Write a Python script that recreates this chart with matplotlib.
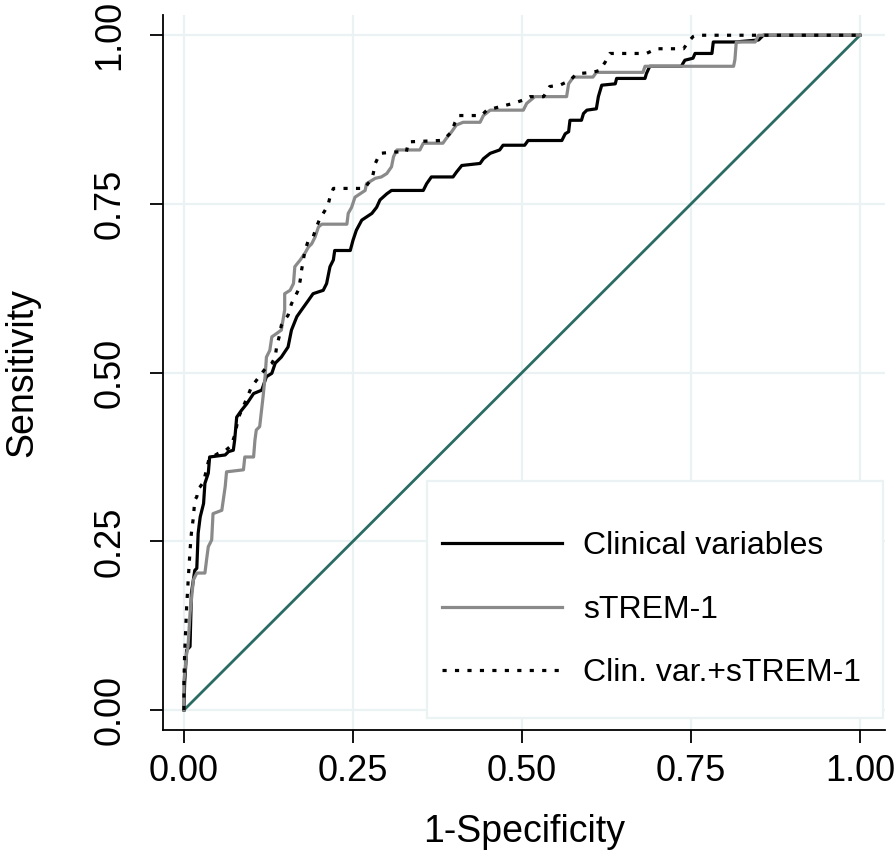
import matplotlib
matplotlib.use('Agg')
import matplotlib.pyplot as plt
from matplotlib.patches import Rectangle

plt.rcParams['font.family'] = ['Liberation Sans', 'DejaVu Sans']

# ROC curve of the clinical variables model
fpr_clin = [0.000, 0.001, 0.004, 0.009, 0.011, 0.016, 0.019, 0.021, 0.024, 0.029,
            0.031, 0.036, 0.038, 0.061, 0.066, 0.073, 0.075, 0.078, 0.085, 0.093,
            0.103, 0.115, 0.122, 0.130, 0.135, 0.144, 0.154, 0.159, 0.167, 0.174,
            0.184, 0.191, 0.206, 0.211, 0.216, 0.221, 0.223, 0.246, 0.250, 0.255,
            0.263, 0.278, 0.285, 0.290, 0.300, 0.307, 0.354, 0.359, 0.366, 0.398,
            0.403, 0.411, 0.438, 0.443, 0.453, 0.467, 0.472, 0.504, 0.509, 0.559,
            0.564, 0.569, 0.571, 0.588, 0.591, 0.596, 0.610, 0.613, 0.618, 0.638,
            0.640, 0.682, 0.684, 0.689, 0.736, 0.738, 0.741, 0.753, 0.756, 0.781,
            0.783, 0.815, 0.850, 0.857, 1.000]
tpr_clin = [0.000, 0.040, 0.089, 0.094, 0.173, 0.207, 0.210, 0.262, 0.286, 0.306,
            0.336, 0.351, 0.375, 0.378, 0.383, 0.385, 0.400, 0.434, 0.444, 0.454,
            0.469, 0.474, 0.494, 0.499, 0.514, 0.523, 0.538, 0.563, 0.583, 0.593,
            0.607, 0.617, 0.622, 0.632, 0.657, 0.667, 0.681, 0.681, 0.696, 0.711,
            0.726, 0.736, 0.745, 0.756, 0.765, 0.770, 0.770, 0.780, 0.790, 0.790,
            0.797, 0.807, 0.810, 0.817, 0.825, 0.830, 0.837, 0.837, 0.844, 0.844,
            0.854, 0.857, 0.874, 0.874, 0.884, 0.889, 0.891, 0.909, 0.926, 0.928,
            0.936, 0.936, 0.943, 0.954, 0.954, 0.958, 0.963, 0.966, 0.973, 0.973,
            0.990, 0.990, 0.993, 1.000, 1.000]

# ROC curve of sTREM-1 alone
fpr_strem = [0.000, 0.000, 0.004, 0.006, 0.009, 0.011, 0.014, 0.019, 0.031, 0.034,
             0.036, 0.041, 0.043, 0.056, 0.061, 0.063, 0.088, 0.090, 0.103, 0.105,
             0.107, 0.112, 0.117, 0.120, 0.122, 0.127, 0.130, 0.137, 0.144, 0.149,
             0.149, 0.157, 0.162, 0.164, 0.172, 0.179, 0.184, 0.189, 0.194, 0.199,
             0.204, 0.241, 0.243, 0.248, 0.253, 0.268, 0.270, 0.283, 0.292, 0.300,
             0.307, 0.310, 0.315, 0.349, 0.354, 0.383, 0.388, 0.396, 0.403, 0.413,
             0.438, 0.443, 0.453, 0.502, 0.507, 0.519, 0.566, 0.569, 0.576, 0.605,
             0.610, 0.679, 0.682, 0.813, 0.815, 0.817, 0.845, 0.850, 1.000]
tpr_strem = [0.000, 0.044, 0.084, 0.094, 0.143, 0.163, 0.193, 0.203, 0.203, 0.227,
             0.242, 0.252, 0.291, 0.296, 0.331, 0.353, 0.356, 0.375, 0.375, 0.400,
             0.415, 0.420, 0.464, 0.494, 0.523, 0.533, 0.553, 0.558, 0.563, 0.593,
             0.617, 0.622, 0.632, 0.657, 0.667, 0.677, 0.686, 0.691, 0.701, 0.716,
             0.720, 0.720, 0.736, 0.745, 0.760, 0.770, 0.780, 0.788, 0.790, 0.795,
             0.805, 0.820, 0.830, 0.830, 0.840, 0.840, 0.847, 0.857, 0.867, 0.871,
             0.871, 0.881, 0.889, 0.889, 0.899, 0.909, 0.909, 0.928, 0.938, 0.938,
             0.945, 0.945, 0.954, 0.954, 0.964, 0.990, 0.990, 1.000, 1.000]

# ROC curve of clinical variables + sTREM-1
fpr_comb = [0.000, 0.000, 0.001, 0.004, 0.006, 0.009, 0.011, 0.014, 0.016, 0.019,
            0.021, 0.024, 0.029, 0.033, 0.037, 0.050, 0.062, 0.070, 0.076, 0.080,
            0.090, 0.100, 0.115, 0.122, 0.130, 0.135, 0.137, 0.142, 0.144, 0.149,
            0.154, 0.159, 0.164, 0.169, 0.172, 0.174, 0.179, 0.184, 0.191, 0.196,
            0.201, 0.209, 0.213, 0.216, 0.221, 0.268, 0.272, 0.277, 0.280, 0.283,
            0.290, 0.312, 0.329, 0.332, 0.379, 0.388, 0.396, 0.401, 0.406, 0.440,
            0.448, 0.467, 0.487, 0.502, 0.512, 0.532, 0.541, 0.556, 0.571, 0.581,
            0.605, 0.615, 0.623, 0.630, 0.684, 0.699, 0.739, 0.746, 0.753, 0.758,
            1.000]
tpr_comb = [0.000, 0.040, 0.084, 0.153, 0.188, 0.237, 0.262, 0.286, 0.311, 0.316,
            0.328, 0.331, 0.338, 0.355, 0.372, 0.380, 0.385, 0.392, 0.410, 0.432,
            0.455, 0.479, 0.499, 0.508, 0.514, 0.523, 0.538, 0.558, 0.570, 0.578,
            0.585, 0.602, 0.612, 0.622, 0.637, 0.652, 0.681, 0.696, 0.701, 0.716,
            0.728, 0.741, 0.748, 0.760, 0.773, 0.773, 0.780, 0.785, 0.795, 0.810,
            0.825, 0.827, 0.827, 0.842, 0.844, 0.849, 0.857, 0.871, 0.881, 0.881,
            0.889, 0.894, 0.899, 0.904, 0.909, 0.909, 0.924, 0.926, 0.933, 0.943,
            0.945, 0.948, 0.960, 0.973, 0.973, 0.980, 0.980, 0.990, 0.998, 1.000,
            1.000]

ticks = [0.0, 0.25, 0.5, 0.75, 1.0]
tick_labels = ['0.00', '0.25', '0.50', '0.75', '1.00']
labels = ['Clinical variables', 'sTREM-1', 'Clin. var.+sTREM-1']

grid_col = '#eaf2f3'

fig = plt.figure(figsize=(8.96, 8.52), dpi=100)
ax = fig.add_axes([163 / 896, 1 - 730 / 852, 722 / 896, 715 / 852])

ax.set_xlim(-0.031, 1.037)
ax.set_ylim(-0.0296, 1.030)

for t in ticks:
    ax.axvline(t, color=grid_col, lw=1.6, zorder=0)
    ax.axhline(t, color=grid_col, lw=1.6, zorder=0)

# reference line
ax.plot([0, 1], [0, 1], color='#2a6b63', lw=2.0, zorder=2)

l1, = ax.plot(fpr_clin, tpr_clin, color='black', lw=2.3, zorder=3)
l2, = ax.plot(fpr_strem, tpr_strem, color='#8a8a8a', lw=2.3, zorder=3)
l3, = ax.plot(fpr_comb, tpr_comb, color='black', lw=2.3, zorder=3,
              linestyle=(0, (1.3, 2.6)), dash_capstyle='butt')

# legend box
box = Rectangle((0.36, -0.012), 0.674, 0.351, transform=ax.transData,
                facecolor='white', edgecolor=grid_col, lw=1.6, zorder=4,
                clip_on=False)
ax.add_patch(box)
leg = ax.legend([l1, l2, l3], labels, loc='upper left',
                bbox_to_anchor=(0.382, 0.265), bbox_transform=ax.transData,
                frameon=False, fontsize=23, handlelength=3.75,
                handletextpad=0.65, labelspacing=1.05, borderpad=0,
                borderaxespad=0)
leg.set_zorder(5)

for s in ['top', 'right']:
    ax.spines[s].set_visible(False)
ax.spines['left'].set_linewidth(1.3)
ax.spines['bottom'].set_linewidth(1.3)

ax.set_xticks(ticks)
ax.set_xticklabels(tick_labels)
ax.set_yticks(ticks)
ax.set_yticklabels(tick_labels, rotation=90, va='center')
ax.tick_params(axis='both', length=9.5, width=1.3, labelsize=26, color='black')
ax.tick_params(axis='x', pad=8)
ax.tick_params(axis='y', pad=16)

ax.set_xlabel('1-Specificity', fontsize=27)
ax.set_ylabel('Sensitivity', fontsize=27)
ax.xaxis.label.set_va('center')
ax.yaxis.label.set_va('center')
ax.xaxis.set_label_coords(0.5, (730 - 832) / 715)
ax.yaxis.set_label_coords((22 - 163) / 722, 0.5)

fig.savefig('out.png', dpi=100)
